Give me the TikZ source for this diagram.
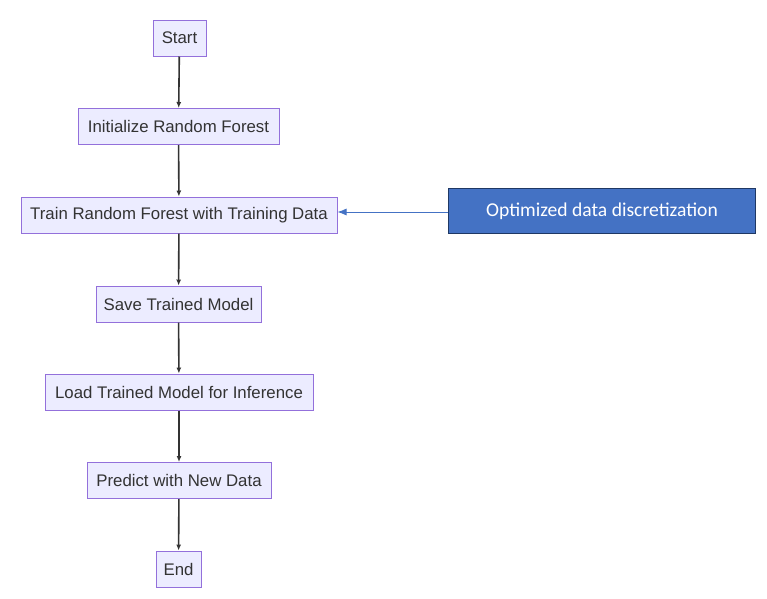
\documentclass[tikz,border=0pt]{standalone}
\usepackage{fontspec}
\setmainfont{Liberation Sans}
\newfontfamily\calfont{Carlito}
\usetikzlibrary{arrows.meta}
\definecolor{mfill}{HTML}{ECECFF}
\definecolor{mborder}{HTML}{9370DB}
\definecolor{mtext}{HTML}{333333}
\definecolor{bfill}{HTML}{4472C4}
\definecolor{bborder}{HTML}{1F3864}
\begin{document}
\begin{tikzpicture}[x=1pt,y=-1pt,
  flowbox/.style={draw=mborder,fill=mfill,line width=1pt,text=mtext,font=\fontsize{16.8}{19}\selectfont,inner sep=0pt,minimum height=36pt},
  flowarrow/.style={draw=mtext,line width=1.6pt,-{Latex[length=6pt,width=5pt]}},
  extbox/.style={draw=bborder,fill=bfill,line width=1.5pt,text=white,font=\calfont\fontsize{19.6}{22}\selectfont,inner sep=0pt,minimum width=307pt,minimum height=45pt},
  extarrow/.style={draw=bfill,line width=0.8pt,-{Latex[length=9pt,width=7pt]}}]
\useasboundingbox (0,0) rectangle (767,598);
\node[flowbox,minimum width=53pt] (start) at (179.5,38) {Start};
\node[flowbox,minimum width=201pt] (init) at (178.5,126.5) {Initialize Random Forest};
\node[flowbox,minimum width=316pt] (train) at (179,215) {Train Random Forest with Training Data};
\node[flowbox,minimum width=165pt] (save) at (178.5,304) {Save Trained Model};
\node[flowbox,minimum width=268pt] (load) at (179,392) {Load Trained Model for Inference};
\node[flowbox,minimum width=184pt] (pred) at (179,480.5) {Predict with New Data};
\node[flowbox,minimum width=45pt] (end) at (178.5,569) {End};
\node[extbox] (opt) at (602,211) {Optimized data discretization};
\draw[flowarrow] (start) -- (init);
\draw[flowarrow] (init) -- (train);
\draw[flowarrow] (train) -- (save);
\draw[flowarrow] (save) -- (load);
\draw[flowarrow] (load) -- (pred);
\draw[flowarrow] (pred) -- (end);
\draw[extarrow] (opt.west |- 0,212) -- (train.east |- 0,212);
\end{tikzpicture}
\end{document}
